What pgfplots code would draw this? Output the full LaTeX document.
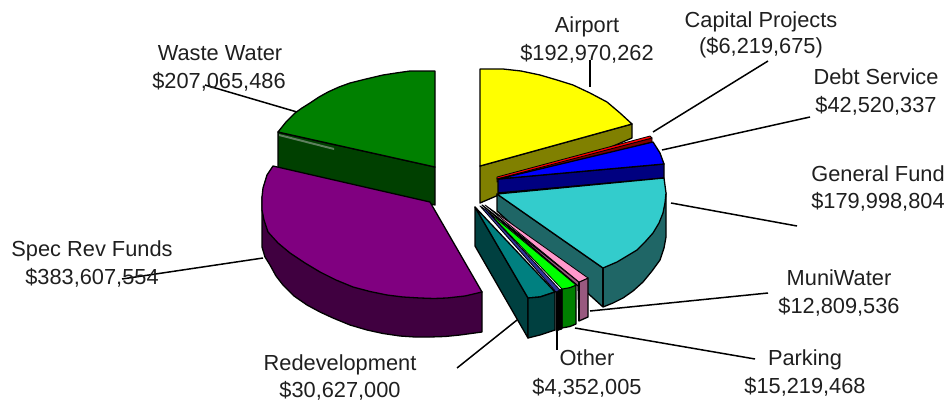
\documentclass[border=0pt]{standalone}
\usepackage{pgfplots}
\pgfplotsset{compat=1.18}
\usepackage{fontspec}
\setmainfont{Liberation Sans}
\definecolor{pyellow}{HTML}{FFFF00}
\definecolor{yellowside}{HTML}{808000}
\definecolor{cyanside}{HTML}{1F6666}
\definecolor{cyantop}{HTML}{33CCCC}
\definecolor{mauve}{HTML}{99597F}
\definecolor{pinktop}{HTML}{FF99CC}
\definecolor{tealside}{HTML}{004040}
\definecolor{pteal}{HTML}{008080}
\definecolor{ppurple}{HTML}{800080}
\definecolor{purpleside}{HTML}{400040}
\definecolor{pgreen}{HTML}{008000}
\definecolor{greenside}{HTML}{004000}
\definecolor{plime}{HTML}{00FF00}
\definecolor{pblue}{HTML}{0000FF}
\definecolor{navyside}{HTML}{000080}
\definecolor{pred}{HTML}{FF0000}
\definecolor{redside}{HTML}{800000}
\definecolor{otherside}{HTML}{333399}
\definecolor{sliver}{HTML}{5F7F5F}
\newcommand{\lab}[3]{\node[anchor=base,inner sep=0pt,text=black!88,font=\fontsize{21.8bp}{26bp}\selectfont] at (axis cs:#1,#2) {#3};}
\begin{document}
\begin{tikzpicture}
\begin{axis}[
  scale only axis, width=949bp, height=400bp,
  xmin=0, xmax=949, ymin=0, ymax=400, y dir=reverse,
  hide axis, clip=false,
  every axis plot/.append style={draw=black, line width=1.3bp, line join=round, mark=none},
]
\addplot[draw=none] coordinates {(0,0) (949,0) (949,400) (0,400)};
% leader lines
\addplot[line width=1.5bp] coordinates {(590,60) (590,87)};
\addplot[line width=1.5bp] coordinates {(653,132) (768,61)};
\addplot[line width=1.5bp] coordinates {(662,150) (810,117)};
\addplot[line width=1.5bp] coordinates {(671,203) (797,226)};
\addplot[line width=1.5bp] coordinates {(590,311) (768,293)};
\addplot[line width=1.5bp] coordinates {(575,328) (755,359)};
\addplot[line width=1.5bp] coordinates {(557,328) (557,350)};
\addplot[line width=1.5bp] coordinates {(517,320) (457,368)};
\addplot[line width=1.5bp] coordinates {(263,258) (122,279)};
\addplot[line width=1.5bp] coordinates {(297,112) (205,85)};
% Waste Water
\addplot[fill=greenside] coordinates {(278,132) (278,168) (435,205) (435,167)} --cycle;
\addplot[draw=none, fill=sliver] coordinates {(279,134) (279,136) (334,150) (334,148)} --cycle;
\addplot[fill=pgreen] coordinates {(435,167) (435,71) (410,71) (396,73) (383,75) (366,79) (350,83) (339,87) (328,92) (319,97) (310,103) (302,108) (295,113) (286,122) (278,132)} --cycle;
% Spec Rev
\addplot[fill=purpleside] coordinates {(262,197) (262,247) (265,257) (270,265) (276,276) (283,285) (294,296) (307,305) (320,312) (333,318) (350,325) (367,330) (383,333.5) (400,336) (415,337) (430,337) (445,336.5) (460,335) (482,332) (482,292) (430,250)} --cycle;
\addplot[fill=ppurple] coordinates {(430,202) (273,166) (267,175) (263,188) (262,197) (262,210) (264,220) (268,232) (278,243) (290,253) (305,263) (320,272) (336,280) (353,287) (370,291.5) (387,295) (403,297) (420,298) (434,298.5) (447,298) (465,296) (482,292)} --cycle;
% Airport
\addplot[fill=yellowside] coordinates {(480,166) (632,124) (632,138) (480,203)} --cycle;
\addplot[fill=pyellow] coordinates {(480,166) (480,69) (503,69) (521,71) (540,75) (557,80) (573,85) (590,93) (607,102) (620,113) (632,124)} --cycle;
% Capital Projects
\addplot[fill=redside, line width=0.8bp] coordinates {(497,178) (652,138) (652,142) (497,182)} --cycle;
\addplot[fill=pred, line width=0.8bp] coordinates {(497,177) (650,136) (652,138) (497,179)} --cycle;
% Debt Service
\addplot[fill=navyside] coordinates {(498,179) (664,164) (664,178) (498,193)} --cycle;
\addplot[fill=pblue] coordinates {(498,179) (653,142) (660,153) (664,164)} --cycle;
% General Fund
\addplot[fill=cyanside] coordinates {(497,194) (497,211) (603,307) (613,303) (623,298) (633,291) (643,282) (652,271) (660,260) (664,248) (666,237) (666,193) (603,268)} --cycle;
\addplot[fill=cyantop] coordinates {(497,194) (664,178) (666,193) (665,203) (663,213) (659,223) (653,233) (645,242) (637,250) (627,256) (617,262) (610,265) (603,268)} --cycle;
\addplot[] coordinates {(603,268) (603,307)};
% MuniWater
\addplot[fill=mauve] coordinates {(482,205) (579,282) (588,278) (588,317) (579,321) (578,286)} --cycle;
\addplot[fill=pinktop, line width=0.8bp] coordinates {(485,205) (588,278) (579,282)} --cycle;
\addplot[] coordinates {(579,282) (579,321)};
% Parking
\addplot[fill=pgreen] coordinates {(562,289) (562,328) (570,326.5) (576,324) (576,285) (570,287.5)} --cycle;
\addplot[fill=plime, line width=0.8bp] coordinates {(486,210) (562,289) (570,287.5) (576,285)} --cycle;
% Other
\addplot[fill=black, line width=0.8bp] coordinates {(556,292) (562,289) (562,329) (556,331)} --cycle;
\addplot[fill=otherside, line width=0.8bp] coordinates {(480,206) (486,210) (560,290) (556,292)} --cycle;
% Redevelopment
\addplot[fill=tealside] coordinates {(475,207) (475,246) (528,338) (528,298)} --cycle;
\addplot[fill=pteal] coordinates {(475,207) (528,298) (540,297) (555,292)} --cycle;
\addplot[fill=tealside] coordinates {(528,298) (528,338) (540,335) (555,330) (555,292) (540,297)} --cycle;
% labels
\lab{220}{60}{Waste Water}
\lab{219}{88}{\$207,065,486}
\lab{587}{32}{Airport}
\lab{587}{60}{\$192,970,262}
\lab{761}{27}{Capital Projects}
\lab{761}{53}{(\$6,219,675)}
\lab{876}{84}{Debt Service}
\lab{876}{112}{\$42,520,337}
\lab{878}{181}{General Fund}
\lab{878}{208}{\$179,998,804}
\lab{92}{256}{Spec Rev Funds}
\lab{92}{284}{\$383,607,554}
\lab{839}{285}{MuniWater}
\lab{839}{313}{\$12,809,536}
\lab{805}{365}{Parking}
\lab{805}{393}{\$15,219,468}
\lab{587}{365}{Other}
\lab{587}{394}{\$4,352,005}
\lab{340}{370}{Redevelopment}
\lab{340}{397}{\$30,627,000}
\end{axis}
\end{tikzpicture}
\end{document}
